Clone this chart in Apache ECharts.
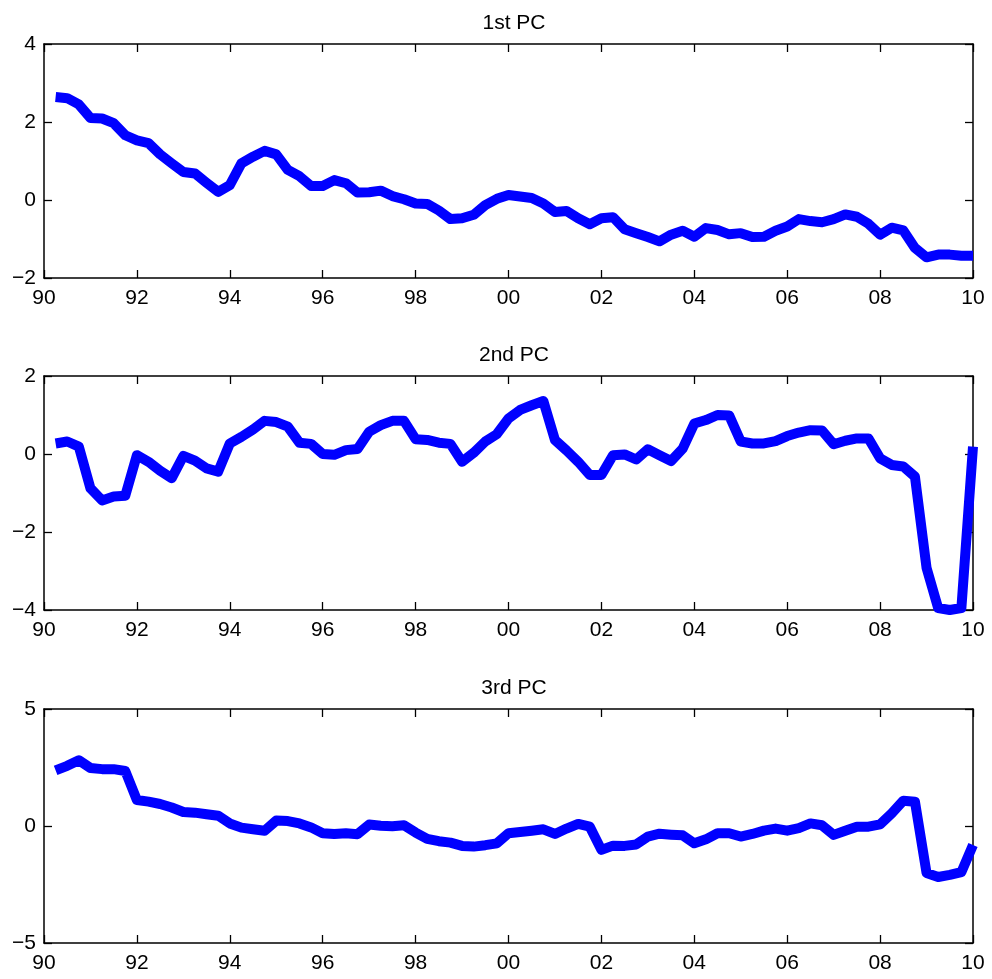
<!DOCTYPE html>
<html>
<head>
<meta charset="utf-8">
<script src="https://cdn.jsdelivr.net/npm/echarts@6/dist/echarts.min.js"></script>
<style>
html,body{margin:0;padding:0;background:#fff;}
#chart{width:992px;height:979px;}
</style>
</head>
<body>
<div id="chart"></div>
<script>
// Quarterly observations: 1990Q2 ... 2010Q1 (decimal years)
const dates = [];
for (let i = 0; i < 80; i++) dates.push(1990.25 + i * 0.25);

const titles = ["1st PC", "2nd PC", "3rd PC"];

const pc1 = [
  2.64, 2.61, 2.45, 2.10, 2.09, 1.97, 1.66, 1.53, 1.46, 1.17,
  0.94, 0.72, 0.68, 0.44, 0.21, 0.38, 0.94, 1.11, 1.26, 1.17,
  0.77, 0.61, 0.36, 0.36, 0.51, 0.43, 0.19, 0.20, 0.24, 0.10,
  0.02, -0.09, -0.10, -0.27, -0.49, -0.47, -0.38, -0.13, 0.03,
  0.13, 0.09, 0.05, -0.09, -0.31, -0.28, -0.47, -0.62, -0.47, -0.44,
  -0.75, -0.85, -0.95, -1.06, -0.89, -0.79, -0.94, -0.72, -0.77, -0.88,
  -0.85, -0.95, -0.94, -0.79, -0.68, -0.49, -0.54, -0.57, -0.49, -0.37,
  -0.43, -0.61, -0.89, -0.71, -0.78, -1.23, -1.47, -1.40, -1.40, -1.43,
  -1.43
];

const pc2 = [
  0.27, 0.32, 0.19, -0.88, -1.19, -1.09, -1.07, -0.03, -0.20, -0.43,
  -0.62, -0.05, -0.17, -0.37, -0.45, 0.27, 0.44, 0.63, 0.85, 0.82,
  0.70, 0.29, 0.26, 0.00, -0.02, 0.10, 0.13, 0.57, 0.74, 0.85,
  0.85, 0.38, 0.36, 0.29, 0.26, -0.20, 0.03, 0.32, 0.51,
  0.91, 1.13, 1.25, 1.36, 0.36, 0.09, -0.20, -0.54, -0.54, -0.03,
  -0.01, -0.14, 0.12, -0.03, -0.18, 0.14, 0.78, 0.87, 1.00, 0.99,
  0.32, 0.27, 0.27, 0.33, 0.46, 0.55, 0.61, 0.60, 0.25, 0.34,
  0.40, 0.40, -0.11, -0.28, -0.32, -0.58, -2.92, -3.95, -4.00, -3.95,
  0.19
];

const pc3 = [
  2.38, 2.57, 2.81, 2.48, 2.43, 2.43, 2.35, 1.11, 1.04, 0.94,
  0.79, 0.60, 0.57, 0.50, 0.44, 0.11, -0.07, -0.14, -0.20, 0.23,
  0.21, 0.11, -0.06, -0.31, -0.34, -0.31, -0.35, 0.06, 0.01, -0.01,
  0.03, -0.28, -0.55, -0.65, -0.71, -0.85, -0.88, -0.82, -0.74,
  -0.31, -0.26, -0.20, -0.14, -0.34, -0.11, 0.09, -0.03, -1.02, -0.84,
  -0.85, -0.79, -0.45, -0.33, -0.37, -0.40, -0.74, -0.57, -0.31, -0.31,
  -0.45, -0.34, -0.20, -0.11, -0.20, -0.09, 0.11, 0.03, -0.38, -0.20,
  -0.03, -0.03, 0.07, 0.54, 1.08, 1.04, -2.01, -2.18, -2.09, -1.97,
  -0.81
];

const series = [pc1, pc2, pc3];
const yMins = [-2, -4, -5];
const yMaxs = [4, 2, 5];
const yIntervals = [2, 2, 5];
const xMin = 1990, xMax = 2010, xInterval = 2;

const FONT = "'Liberation Sans', Arial, Helvetica, sans-serif";
const gridTops = [44, 376, 709];
const gridHeight = 234;

const grid = [], xAxis = [], yAxis = [], title = [], seriesOpt = [];
const xFmt = v => String(Math.round(v) % 100).padStart(2, '0');
const yFmt = v => String(v).replace('-', '\u2212');

for (let k = 0; k < 3; k++) {
  grid.push({ left: 44, right: 19, top: gridTops[k], height: gridHeight });
  title.push({
    text: titles[k], left: 509, top: gridTops[k] - 36, textAlign: 'center',
    textStyle: { fontFamily: FONT, fontSize: 21, fontWeight: 'normal', color: '#000' }
  });
  const axLine = { show: true, onZero: false, lineStyle: { color: '#000', width: 1.5 } };
  const tick = { show: true, inside: true, length: 8, lineStyle: { color: '#000', width: 1.3 } };
  xAxis.push({
    type: 'value', gridIndex: k, min: xMin, max: xMax, interval: xInterval, position: 'bottom',
    axisLine: axLine, axisTick: tick, splitLine: { show: false },
    axisLabel: { formatter: xFmt, margin: 10, color: '#000', fontFamily: FONT, fontSize: 21 }
  });
  xAxis.push({
    type: 'value', gridIndex: k, min: xMin, max: xMax, interval: xInterval, position: 'top',
    axisLine: axLine, axisTick: tick, splitLine: { show: false }, axisLabel: { show: false }
  });
  yAxis.push({
    type: 'value', gridIndex: k, min: yMins[k], max: yMaxs[k], interval: yIntervals[k], position: 'left',
    axisLine: axLine, axisTick: tick, splitLine: { show: false },
    axisLabel: { formatter: yFmt, margin: 8, color: '#000', fontFamily: FONT, fontSize: 21 }
  });
  yAxis.push({
    type: 'value', gridIndex: k, min: yMins[k], max: yMaxs[k], interval: yIntervals[k], position: 'right',
    axisLine: axLine, axisTick: tick, splitLine: { show: false }, axisLabel: { show: false }
  });
  seriesOpt.push({
    type: 'line', xAxisIndex: 2 * k, yAxisIndex: 2 * k,
    data: dates.map((d, i) => [d, series[k][i]]),
    showSymbol: false, symbol: 'none', clip: true,
    lineStyle: { color: '#0000ff', width: 10, join: 'round', cap: 'butt' },
    silent: true, animation: false
  });
}

const chart = echarts.init(document.getElementById('chart'), null, { renderer: 'canvas' });
chart.setOption({
  animation: false,
  backgroundColor: '#fff',
  title, grid, xAxis, yAxis, series: seriesOpt
});
</script>
</body>
</html>
